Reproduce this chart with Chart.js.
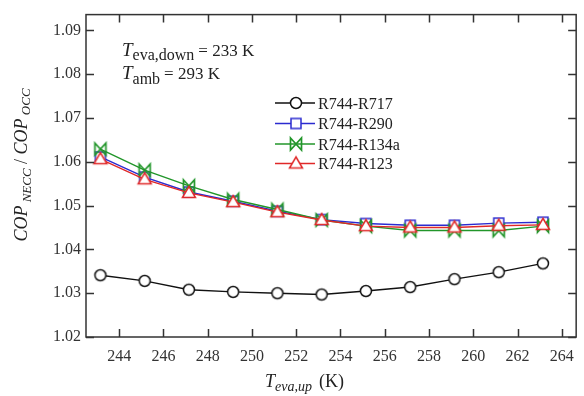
<!DOCTYPE html>
<html><head><meta charset="utf-8">
<script src="https://cdn.jsdelivr.net/npm/chart.js@4"></script>
<style>html,body{margin:0;padding:0;background:#fff}#wrap{width:584px;height:396px}</style>
</head><body><div id="wrap"><canvas id="c" width="584" height="396"></canvas></div>
<script>
const temps = [243.15,245.15,247.15,249.15,251.15,253.15,255.15,257.15,259.15,261.15,263.15];
const r717  = [1.0341,1.0328,1.0308,1.0303,1.0300,1.0297,1.0305,1.0314,1.0332,1.0348,1.0368];
const r290  = [1.0611,1.0565,1.0531,1.0510,1.0487,1.0468,1.0459,1.0455,1.0455,1.0460,1.0462];
const r134a = [1.0629,1.0581,1.0545,1.0514,1.0491,1.0467,1.0453,1.0443,1.0443,1.0443,1.0453];
const r123  = [1.0606,1.0560,1.0529,1.0508,1.0485,1.0467,1.0453,1.0450,1.0450,1.0454,1.0456];
const seriesNames = ['R744-R717','R744-R290','R744-R134a','R744-R123'];
const xTicks = [244,246,248,250,252,254,256,258,260,262,264];
const yTicks = [1.02,1.03,1.04,1.05,1.06,1.07,1.08,1.09];

const SERIF = '"Liberation Serif","DejaVu Serif",serif';
const cols = ['#111111','#2b2bd0','#22962a','#e02828'];

function mk(kind, color){
  const s=18, c=document.createElement('canvas'); c.width=s; c.height=s;
  const g=c.getContext('2d'); g.strokeStyle=color; g.fillStyle='#fff'; g.lineWidth=1.5;
  const m=s/2; g.beginPath();
  if(kind==='circle'){ g.arc(m,m,5.5,0,Math.PI*2); }
  else if(kind==='square'){ g.rect(m-5,m-5,10,10); }
  else if(kind==='bowtie'){ g.lineWidth=1.7; g.moveTo(m-5.5,m-6); g.lineTo(m+5.5,m+6); g.lineTo(m+5.5,m-6); g.lineTo(m-5.5,m+6); g.closePath(); }
  else if(kind==='tri'){ g.moveTo(m,m-6.5); g.lineTo(m+6.5,m+4.5); g.lineTo(m-6.5,m+4.5); g.closePath(); }
  if(kind!=='bowtie') g.fill();
  g.stroke(); return c;
}
const markers=[mk('circle',cols[0]),mk('square',cols[1]),mk('bowtie',cols[2]),mk('tri',cols[3])];
const dataArr=[r717,r290,r134a,r123];

const datasets = dataArr.map((d,i)=>({
  label: seriesNames[i],
  data: temps.map((t,j)=>({x:t,y:d[j]})),
  borderColor: cols[i], borderWidth:1.4, pointStyle: markers[i],
  pointRadius:6, pointHoverRadius:6, tension:0, fill:false, order: 3-i
}));

const L=86,R=577,T=8,B=337;
const deco = {
  id:'deco',
  afterDraw(chart){
    const ctx=chart.ctx, xs=chart.scales.x, ys=chart.scales.y, a=chart.chartArea;
    ctx.save();
    ctx.strokeStyle='#333'; ctx.lineWidth=1.5;
    ctx.strokeRect(a.left,a.top,a.right-a.left,a.bottom-a.top);
    ctx.beginPath();
    xTicks.forEach(v=>{const p=Math.round(xs.getPixelForValue(v))+0.5;
      ctx.moveTo(p,a.bottom); ctx.lineTo(p,a.bottom-8); ctx.moveTo(p,a.top); ctx.lineTo(p,a.top+8);});
    yTicks.forEach(v=>{const p=Math.round(ys.getPixelForValue(v))+0.5;
      ctx.moveTo(a.left,p); ctx.lineTo(a.left+8,p); ctx.moveTo(a.right,p); ctx.lineTo(a.right-8,p);});
    ctx.stroke();
    ctx.fillStyle='#222'; ctx.textBaseline='alphabetic';
    // annotations
    let x=122;
    ctx.font='italic 19px '+SERIF; ctx.fillText('T',x,56); x+=ctx.measureText('T').width;
    ctx.font='16px '+SERIF; ctx.fillText('eva,down',x,60); x+=ctx.measureText('eva,down').width+4;
    ctx.font='17px '+SERIF; ctx.fillText('= 233 K',x,56);
    x=122;
    ctx.font='italic 19px '+SERIF; ctx.fillText('T',x,79); x+=ctx.measureText('T').width;
    ctx.font='16px '+SERIF; ctx.fillText('amb',x,84); x+=ctx.measureText('amb').width+4;
    ctx.font='17px '+SERIF; ctx.fillText('= 293 K',x,79);
    // legend
    const rows=[103,123.5,144,163.5];
    seriesNames.forEach((n,i)=>{
      const y=rows[i];
      ctx.strokeStyle=cols[i]; ctx.lineWidth=1.4;
      ctx.beginPath(); ctx.moveTo(275,y); ctx.lineTo(315,y); ctx.stroke();
      ctx.drawImage(markers[i],296-9,y-9);
      ctx.fillStyle='#222'; ctx.font='16px '+SERIF; ctx.fillText(n,318,y+5.5);
    });
    // x title
    x=265;
    ctx.font='italic 18px '+SERIF; ctx.fillText('T',x,387); x+=ctx.measureText('T').width;
    ctx.font='italic 14px '+SERIF; ctx.fillText('eva,up',x,391); x+=ctx.measureText('eva,up').width+7;
    ctx.font='18px '+SERIF; ctx.fillText('(K)',x,387);
    // y title
    ctx.translate(27,165); ctx.rotate(-Math.PI/2);
    const parts=[['COP','italic 18px',0],[' NECC','italic 13px',4],[' / ','18px',0],['COP','italic 18px',0],[' OCC','italic 13px',3]];
    let w=0; parts.forEach(p=>{ctx.font=p[1]+' '+SERIF; w+=ctx.measureText(p[0]).width;});
    let px=-w/2;
    parts.forEach(p=>{ctx.font=p[1]+' '+SERIF; ctx.fillText(p[0],px,p[2]); px+=ctx.measureText(p[0]).width;});
    ctx.restore();
  }
};

new Chart(document.getElementById('c'),{
  type:'line',
  data:{datasets},
  options:{
    responsive:false, animation:false, devicePixelRatio:1,
    layout:{padding:{left:0,right:584-R,top:T,bottom:0}},
    plugins:{legend:{display:false},tooltip:{enabled:false}},
    scales:{
      x:{type:'linear',min:242.5,max:264.65,
        grid:{display:false,drawTicks:false}, border:{display:false},
        afterBuildTicks:s=>{s.ticks=xTicks.map(v=>({value:v}));},
        afterFit:s=>{s.height=396-B;},
        ticks:{padding:10,color:'#333',font:{family:SERIF,size:16},maxRotation:0,autoSkip:false,callback:v=>String(v)}},
      y:{type:'linear',min:1.02,max:1.0936,
        grid:{display:false,drawTicks:false}, border:{display:false},
        afterBuildTicks:s=>{s.ticks=yTicks.map(v=>({value:v}));},
        afterFit:s=>{s.width=L;},
        ticks:{padding:5,color:'#333',font:{family:SERIF,size:16},autoSkip:false,callback:v=>v.toFixed(2)}}
    }
  },
  plugins:[deco]
});
</script></body></html>
